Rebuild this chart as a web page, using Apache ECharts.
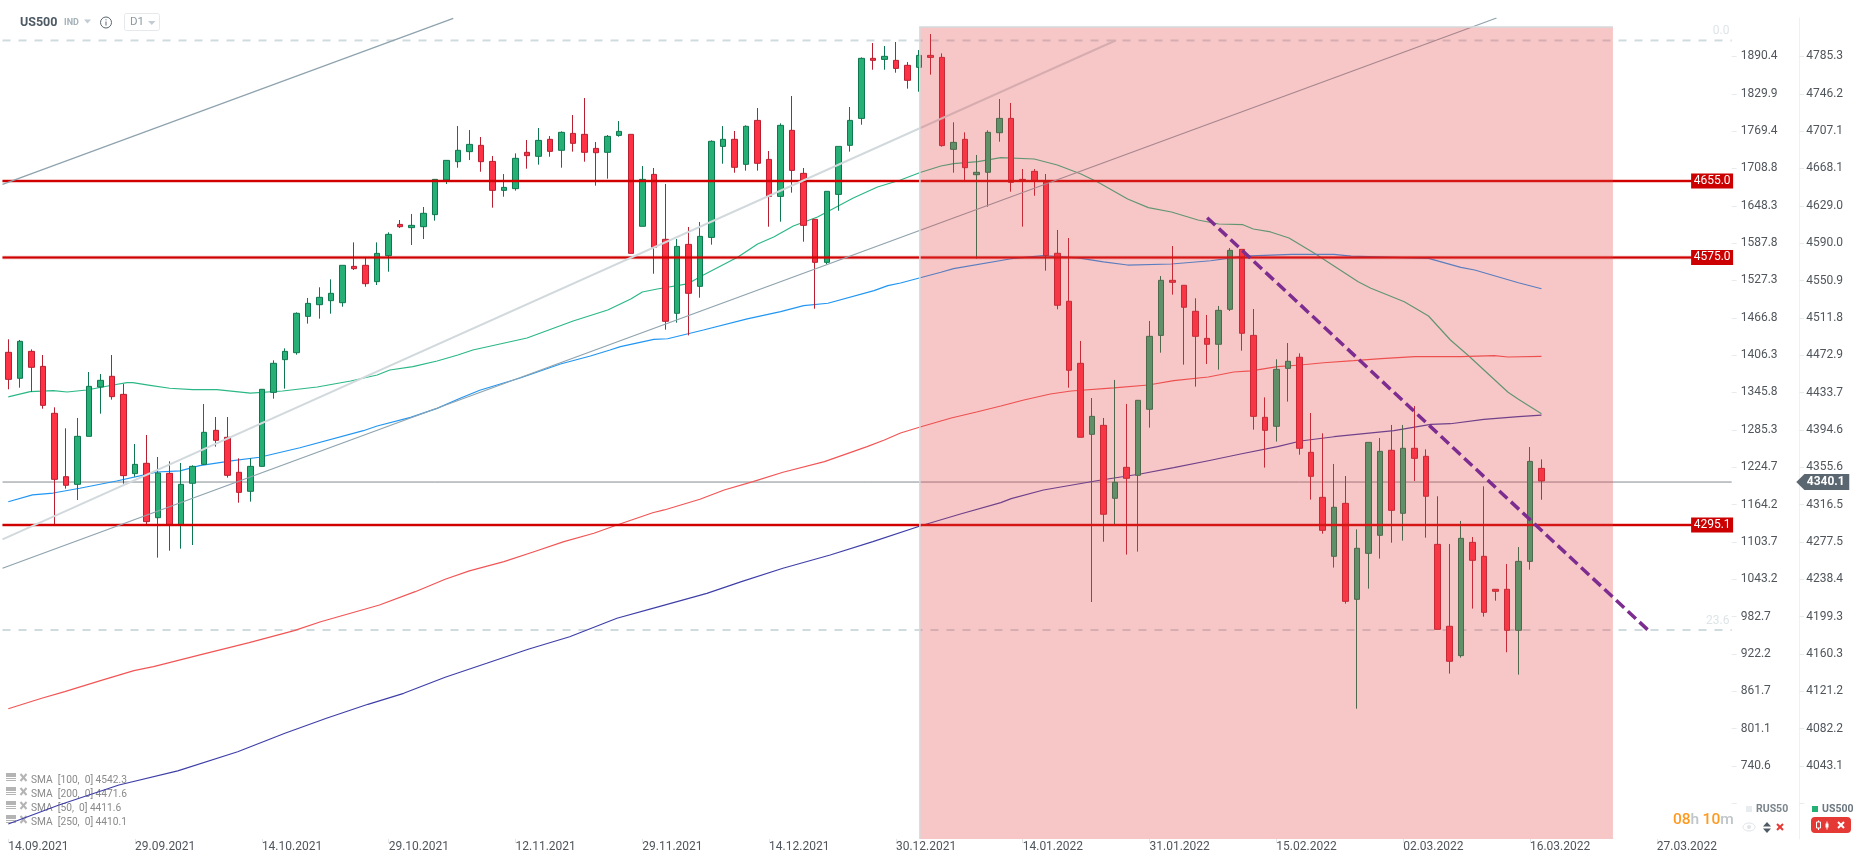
<!DOCTYPE html>
<html>
<head>
<meta charset="utf-8">
<title>US500</title>
<style>
	html, body { margin: 0; padding: 0; background: #fff; }
	#chart { width: 1866px; height: 865px; }
</style>
<script src="https://cdn.jsdelivr.net/npm/echarts@6/dist/echarts.min.js"></script>
</head>
<body>
<div id="chart"></div>
<script>
// date labels, one every 11 bars
const dateLabels = ['14.09.2021','29.09.2021','14.10.2021','29.10.2021','12.11.2021','29.11.2021','14.12.2021','30.12.2021','14.01.2022','31.01.2022','15.02.2022','02.03.2022','16.03.2022','27.03.2022'];
const barSlots = 150;

const usTicks = [4785.3,4746.2,4707.1,4668.1,4629.0,4590.0,4550.9,4511.8,4472.9,4433.7,4394.6,4355.6,4316.5,4277.5,4238.4,4199.3,4160.3,4121.2,4082.2,4043.1];
const rusTicks = [1890.4,1829.9,1769.4,1708.8,1648.3,1587.8,1527.3,1466.8,1406.3,1345.8,1285.3,1224.7,1164.2,1103.7,1043.2,982.7,922.2,861.7,801.1,740.6];

// US500 daily bars: open, close, low, high
const ohlc = [
	[4475.8,4447.5,4437.1,4489.4],[4448.6,4487.3,4438.8,4488.7],[4476.8,4460.1,4434.6,4478.9],[4461.1,4420.3,4416.8,4473.0],
	[4412.0,4342.9,4296.2,4418.2],[4345.7,4336.7,4333.2,4396.3],[4337.7,4387.9,4321.3,4407.1],[4387.9,4440.2,4387.9,4455.2],
	[4439.5,4446.5,4411.6,4453.1],[4450.7,4429.4,4426.3,4473.0],[4431.8,4346.8,4338.4,4442.6],[4348.9,4358.6,4345.7,4379.9],
	[4359.7,4298.7,4296.2,4389.3],[4302.8,4349.6,4261.0,4366.3],[4349.2,4294.8,4268.3,4361.8],[4294.8,4337.7,4270.4,4360.0],
	[4338.8,4356.5,4274.2,4357.6],[4358.6,4392.1,4357.9,4421.7],[4394.2,4383.7,4377.1,4408.1],[4386.9,4347.1,4344.7,4408.1],
	[4350.3,4329.3,4318.5,4364.9],[4330.4,4356.5,4319.6,4364.9],[4356.5,4437.1,4356.5,4437.1],[4433.9,4464.3,4427.3,4467.4],
	[4468.1,4476.8,4437.8,4479.9],[4475.4,4516.6,4473.3,4517.6],[4513.4,4527.0,4505.8,4532.6],[4525.6,4533.3,4511.0,4543.8],
	[4529.8,4537.5,4516.2,4552.1],[4527.7,4566.8,4523.5,4566.8],[4565.7,4563.3,4561.9,4590.8],[4566.8,4547.6,4544.4,4575.1],
	[4549.7,4579.3,4546.2,4590.8],[4576.9,4599.2,4560.1,4601.3],[4609.6,4607.2,4605.8,4614.2],[4606.2,4608.6,4588.0,4620.5],
	[4607.2,4621.2,4594.3,4627.8],[4619.8,4656.7,4613.5,4657.1],[4656.0,4676.6,4651.8,4676.6],[4675.2,4687.1,4668.9,4712.5],
	[4685.7,4693.3,4676.9,4708.3],[4692.3,4675.2,4664.7,4701.0],[4675.5,4645.2,4627.1,4681.1],[4645.2,4648.3,4638.6,4662.3],
	[4647.0,4678.7,4644.9,4683.9],[4685.0,4681.5,4667.9,4697.9],[4680.8,4697.5,4672.1,4710.4],[4698.6,4686.0,4680.4,4702.0],
	[4687.1,4705.9,4668.9,4706.9],[4704.8,4694.4,4685.7,4724.0],[4703.8,4685.0,4675.2,4741.8],[4689.1,4684.6,4650.1,4695.8],
	[4685.0,4701.7,4657.4,4703.1],[4702.7,4706.9,4701.3,4717.7],[4703.8,4579.3,4579.3,4703.8],[4607.6,4656.7,4607.6,4670.7],
	[4661.9,4585.6,4558.0,4668.6],[4594.0,4508.2,4499.5,4651.8],[4516.6,4586.6,4506.8,4594.3],[4588.7,4537.5,4493.5,4606.9],
	[4544.8,4597.1,4532.9,4612.1],[4596.0,4696.5,4588.4,4697.5],[4691.2,4698.6,4673.1,4712.5],[4698.6,4669.3,4663.7,4707.3],
	[4672.4,4712.2,4665.8,4713.2],[4718.4,4673.5,4665.8,4731.3],[4677.6,4638.9,4607.2,4686.4],[4638.9,4713.2,4612.4,4715.3],
	[4708.0,4666.1,4642.8,4743.9],[4663.0,4608.6,4591.5,4668.6],[4614.9,4569.9,4521.4,4614.9],[4569.9,4644.2,4567.8,4644.2],
	[4641.0,4691.2,4623.9,4691.2],[4692.3,4718.4,4685.7,4732.4],[4720.5,4783.3,4713.9,4784.3],[4783.3,4781.2,4771.4,4799.3],
	[4782.2,4785.4,4771.4,4796.2],[4781.2,4772.8,4768.3,4800.4],[4776.0,4760.3,4751.6,4779.4],[4773.9,4786.4,4748.4,4792.0],
	[4786.4,4784.3,4766.2,4808.7],[4784.3,4692.0,4690.9,4788.5],[4688.1,4695.4,4663.7,4716.4],[4698.6,4668.9,4655.3,4705.9],
	[4661.6,4664.1,4573.8,4682.2],[4664.1,4705.9,4628.1,4708.0],[4705.5,4720.5,4696.1,4740.8],[4720.5,4653.6,4643.8,4736.6],
	[4656.7,4655.0,4607.2,4667.5],[4665.1,4655.0,4639.6,4667.5],[4653.9,4576.9,4561.2,4662.3],[4579.4,4525.0,4520.8,4603.8],
	[4529.2,4457.0,4438.8,4595.4],[4464.3,4386.9,4386.9,4487.7],[4390.0,4408.8,4214.6,4428.0],[4399.4,4306.4,4277.7,4407.1],
	[4323.1,4339.8,4295.9,4446.9],[4355.5,4344.0,4264.2,4421.8],[4347.1,4425.6,4267.3,4425.6],[4416.2,4492.5,4397.0,4508.6],
	[4493.5,4551.1,4475.4,4555.6],[4551.1,4549.0,4536.1,4587.0],[4545.9,4522.9,4462.9,4545.9],[4518.7,4492.5,4439.9,4532.3],
	[4490.4,4484.2,4463.6,4514.9],[4484.2,4519.7,4457.7,4524.3],[4520.8,4582.5,4519.0,4584.9],[4583.5,4495.7,4477.5,4583.5],
	[4493.5,4408.8,4394.9,4521.1],[4407.8,4394.2,4355.2,4428.7],[4398.4,4458.0,4382.4,4468.5],[4459.0,4466.4,4424.2,4485.5],
	[4470.6,4375.4,4368.7,4474.7],[4371.2,4346.1,4321.7,4412.3],[4324.1,4289.6,4286.1,4391.1],[4262.4,4313.7,4250.6,4359.0],
	[4317.8,4215.3,4212.9,4346.4],[4217.4,4270.8,4103.0,4290.6],[4265.5,4381.6,4228.6,4381.6],[4284.4,4372.2,4260.0,4386.2],
	[4373.3,4310.5,4276.7,4399.8],[4307.4,4375.4,4278.8,4399.8],[4375.4,4364.9,4341.2,4419.6],[4367.0,4325.2,4281.9,4374.3],
	[4274.9,4186.0,4186.0,4325.2],[4189.2,4152.6,4139.7,4275.3],[4158.5,4281.2,4156.4,4299.4],[4277.0,4258.2,4207.7,4282.6],
	[4262.4,4203.8,4199.3,4335.6],[4227.9,4225.8,4216.0,4227.9],[4227.9,4185.0,4162.0,4254.4],[4185.0,4257.1,4138.6,4272.1],
	[4257.1,4361.7,4248.4,4376.7],[4354.4,4341.2,4321.6,4363.8]
];

// moving averages as [bar number, price]
const sma50 = [[0,4429.1],[1.9,4434.6],[3.9,4435.7],[5.1,4434.3],[6.8,4436.4],[9.1,4441.6],[10.3,4444.0],[10.8,4444.0],[12.3,4441.3],[14,4438.2],[16,4436.7],[18.1,4436.7],[21,4433.2],[23.8,4435.3],[26.8,4439.5],[29.7,4445.8],[32,4452.1],[33.1,4457.3],[35.1,4460.8],[37.2,4466.7],[39,4473.0],[40.3,4478.2],[45,4490.8],[49,4508.6],[52,4520.1],[54,4531.6],[55,4538.9],[56.3,4542.0],[58.9,4547.3],[60.3,4556.7],[63.3,4575.5],[65,4589.1],[66.4,4596.4],[68.1,4607.9],[70.2,4617.3],[73.3,4637.2],[75.4,4648.7],[77.4,4656.0],[79.1,4663.9],[80.9,4670.7],[82,4673.1],[84.1,4675.2],[86.1,4679.4],[89,4678.0],[91,4671.7],[93,4662.6],[94.5,4654.0],[97.1,4636.2],[98.9,4627.1],[100.9,4622.6],[103.2,4614.2],[105,4610.0],[107.1,4609.3],[108,4604.8],[109.5,4601.7],[111.1,4595.4],[113.3,4579.4],[115,4566.1],[117.1,4549.7],[118.2,4542.8],[121.1,4528.7],[123.2,4513.8],[125.1,4488.7],[126.6,4473.0],[130.1,4434.0],[131,4426.7],[133,4411.6]];
const sma100 = [[0,4319.5],[2.1,4326.6],[3.9,4328.6],[6.2,4333.6],[9.4,4341.2],[12,4348.2],[12.9,4350.6],[14.9,4351.7],[16.6,4357.2],[19.5,4362.4],[21.8,4366.0],[25.3,4376.0],[30.8,4393.8],[32,4398.7],[34.9,4407.8],[37.2,4417.2],[39.2,4427.7],[40.9,4436.1],[44.4,4448.9],[47.9,4463.6],[50.5,4471.9],[52.2,4478.2],[53.1,4481.7],[56,4489.4],[57.2,4490.0],[60.3,4499.1],[64.1,4510.7],[67,4518.3],[69,4524.6],[71.1,4527.1],[75.1,4540.3],[76.3,4545.5],[77.4,4548.3],[80.9,4559.5],[82,4563.3],[87,4573.7],[89.8,4576.9],[92.8,4574.5],[95,4570.3],[97.1,4567.1],[100.9,4568.2],[104.3,4571.6],[107.2,4576.5],[111.3,4578.3],[115,4578.3],[116.5,4576.5],[123.2,4574.1],[126,4564.7],[127.2,4561.9],[131,4548.6],[133,4542.3]];
const sma200 = [[0,4103.0],[2.9,4113.9],[4.9,4120.8],[8,4132.3],[10.9,4142.8],[12.6,4147.0],[16.8,4159.9],[20.9,4172.1],[24.8,4184.6],[27.1,4194.0],[32.2,4211.5],[35.3,4225.4],[37.9,4238.4],[40,4247.1],[43,4256.8],[45.6,4267.2],[48.2,4277.7],[50.8,4286.5],[52.8,4295.2],[55.9,4308.0],[56.9,4310.9],[60,4322.1],[62.1,4331.8],[64.6,4340.5],[67.2,4350.3],[70.8,4361.4],[74.5,4377.1],[76,4384.1],[77.4,4391.4],[79.1,4397.7],[81.8,4407.1],[84,4413.4],[86.1,4419.6],[88.1,4425.9],[90.4,4432.2],[92.2,4435.3],[95.9,4438.5],[98.9,4441.6],[101.1,4446.1],[104.1,4450.0],[106.3,4455.2],[107.8,4456.3],[110.1,4460.8],[112.1,4462.5],[114.1,4464.9],[116.7,4467.0],[119.1,4469.1],[122,4471.2],[126,4471.2],[128.9,4472.3],[130.1,4470.9],[133,4471.6]];
const sma250 = [[0,3982.4],[4.4,4002.3],[9.6,4023.2],[14.7,4037.9],[19.9,4058.0],[24,4077.3],[27.6,4093.0],[31.2,4107.6],[34.3,4119.1],[37.9,4135.9],[41.5,4150.5],[45.1,4165.2],[48.7,4178.3],[52.8,4197.6],[55.9,4208.0],[60.6,4223.7],[63.6,4235.9],[67.2,4249.9],[71.3,4263.8],[75,4277.7],[79.1,4294.1],[82.6,4306.7],[86.1,4318.5],[87,4322.7],[89.8,4331.8],[94.8,4342.2],[98.2,4348.5],[101.1,4355.1],[104.1,4362.4],[106.9,4369.4],[110.1,4377.1],[112.1,4383.0],[115,4387.5],[120.2,4393.8],[123.4,4400.5],[125.1,4401.1],[128,4405.7],[131,4408.5],[133,4410.1]];

// drawn trend lines, same units
const channelTop = [[-0.5,4651.5],[38.6,4825.2]];
const channelMid = [[-0.5,4280.2],[96.1,4802.2]];
const channelLow = [[-0.5,4249.9],[129.1,4825.5]];
const downTrend = [[104,4616.6],[142.3,4184.6]];

const resistanceLevels = [4655.0, 4575.0, 4295.1];
const fibLevels = [{ name: '0.0', price: 4802.0 }, { name: '23.6', price: 4185.3 }];
const lastPrice = 4340.1;

// shaded period: from bar, price top, to bar, price bottom
const shadedZone = [79.08, 4816.1, 139.2, 3966.7];

const legendRows = ['SMA  [100,  0] 4542.3', 'SMA  [200,  0] 4471.6', 'SMA  [50,  0] 4411.6', 'SMA  [250,  0] 4410.1'];

const usMin = 3966.7;
const usMax = 4825.5;
// RUS50 scale is tied to the US500 scale through the tick pairs
const rusPerUs = (rusTicks[0] - rusTicks[19]) / (usTicks[0] - usTicks[19]);
const rusMin = rusTicks[19] - (usTicks[19] - usMin) * rusPerUs;
const rusMax = rusTicks[0] + (usMax - usTicks[0]) * rusPerUs;

const categories = [];
for (let i = 0; i < barSlots; i++) {
	categories.push(i % 11 == 0 && dateLabels[i / 11] ? dateLabels[i / 11] : '');
}

const font = 'Roboto, sans-serif';
const barEnd = barSlots - 0.5;

function overlayLine(name, data, color, width, z, extra) {
	return Object.assign({
		name: name,
		type: 'line',
		xAxisIndex: 1,
		yAxisIndex: 0,
		data: data,
		symbol: 'none',
		silent: true,
		z: z,
		lineStyle: { color: color, width: width }
	}, extra || {});
}

const series = [];

resistanceLevels.forEach(function (p, i) {
	series.push(overlayLine('level halo' + i, [[-0.5, p], [barEnd, p]], 'rgba(204,0,0,0.3)', 3.5, 3));
	series.push(overlayLine('level' + i, [[-0.5, p], [barEnd, p]], '#d00000', 2, 3));
});
series.push(overlayLine('last', [[-0.5, lastPrice], [barEnd, lastPrice]], '#858c90', 1, 1));
fibLevels.forEach(function (f) {
	series.push(overlayLine('fib' + f.name, [[-0.5, f.price], [barEnd, f.price]], '#d0dbe0', 2, 1, {
		lineStyle: { color: '#d0dbe0', width: 2, type: [8, 8] }
	}));
});

series.push(overlayLine('SMA 50', sma50, '#2bb886', 1.2, 1));
series.push(overlayLine('SMA 100', sma100, '#2196f3', 1.2, 1));
series.push(overlayLine('SMA 200', sma200, '#f25555', 1.2, 1));
series.push(overlayLine('SMA 250', sma250, '#3f3fa8', 1.2, 1));

series.push({
	name: 'US500',
	type: 'candlestick',
	data: ohlc,
	barWidth: 6,
	z: 2,
	silent: true,
	itemStyle: {
		color: '#26b076',
		color0: '#ff3145',
		borderColor: '#0f7750',
		borderColor0: '#b81f30',
		borderWidth: 1
	}
});

series.push(overlayLine('channel top', channelTop, '#8fa3ae', 1.3, 3));
series.push(overlayLine('channel mid', channelMid, '#d2d9dc', 2, 3));
series.push(overlayLine('channel low', channelLow, '#8fa3ae', 1.3, 3));

series.push({
	name: 'shade',
	type: 'custom',
	xAxisIndex: 1,
	yAxisIndex: 0,
	z: 4,
	silent: true,
	data: [shadedZone],
	encode: { x: [0, 2], y: [1, 3] },
	renderItem: function (params, api) {
		const a = api.coord([api.value(0), api.value(1)]);
		const b = api.coord([api.value(2), api.value(3)]);
		return {
			type: 'group',
			children: [{
				type: 'rect',
				shape: { x: a[0], y: a[1], width: b[0] - a[0], height: b[1] - a[1] },
				style: { fill: 'rgba(228,68,68,0.3)' }
			}, {
				type: 'polyline',
				shape: { points: [[a[0], b[1]], [a[0], a[1]], [b[0], a[1]]] },
				style: { fill: null, stroke: '#d5d9dc', lineWidth: 1.5 }
			}]
		};
	}
});

series.push(overlayLine('down trend', downTrend, '#7d2d90', 3.5, 5, {
	lineStyle: { color: '#7d2d90', width: 3.5, type: [11, 5] }
}));

// red price tags on the levels
series.push({
	name: 'level tags',
	type: 'scatter',
	xAxisIndex: 1,
	yAxisIndex: 0,
	z: 6,
	silent: true,
	symbol: 'rect',
	symbolSize: [42, 15],
	itemStyle: { color: '#cc0000', opacity: 1 },
	data: resistanceLevels.map(function (p) { return [147.8, p]; }),
	label: {
		show: true,
		position: 'inside',
		color: '#fff',
		fontFamily: font,
		fontSize: 12,
		formatter: function (p) { return p.value[1].toFixed(1); }
	}
});

series.push({
	name: 'fib labels',
	type: 'scatter',
	xAxisIndex: 1,
	yAxisIndex: 0,
	z: 6,
	silent: true,
	symbolSize: 0,
	data: fibLevels.map(function (f) { return { value: [149.3, f.price], name: f.name }; }),
	label: {
		show: true,
		position: 'left',
		distance: 0,
		offset: [0, -9],
		color: '#d5dde1',
		fontFamily: font,
		fontSize: 12,
		formatter: '{b}'
	}
});

// dark tag with the last price, sits over the axis labels
series.push({
	name: 'last tag',
	type: 'scatter',
	xAxisIndex: 1,
	yAxisIndex: 0,
	z: 7,
	silent: true,
	clip: false,
	symbol: 'path://M0,8 L8,0 L52,0 L52,16 L8,16 Z',
	symbolSize: [53, 16],
	symbolKeepAspect: false,
	itemStyle: { color: '#5b6770', opacity: 1 },
	data: [[157.4, lastPrice]],
	label: {
		show: true,
		position: 'inside',
		offset: [3, 0],
		color: '#fff',
		fontFamily: font,
		fontSize: 12,
		fontWeight: 'bold',
		formatter: function (p) { return p.value[1].toFixed(1); }
	}
});

// toolbar and other screen furniture
function txt(x, y, text, size, color, weight) {
	return { type: 'text', x: x, y: y, silent: true, style: { text: text, fontFamily: font, fontSize: size, fill: color, fontWeight: weight || 'normal', verticalAlign: 'middle' } };
}
function tri(x, y, w, h, color, up) {
	const pts = up ? [[x, y + h], [x + w, y + h], [x + w / 2, y]] : [[x, y], [x + w, y], [x + w / 2, y + h]];
	return { type: 'polygon', silent: true, shape: { points: pts }, style: { fill: color } };
}
function seg(x1, y1, x2, y2, color, w) {
	return { type: 'line', silent: true, shape: { x1: x1, y1: y1, x2: x2, y2: y2 }, style: { stroke: color, lineWidth: w } };
}

const furniture = [
	txt(20, 22.5, 'US500', 12.5, '#4d5963', 'bold'),
	txt(64, 22.5, 'IND', 9, '#a4b1b9', 'bold'),
	tri(84, 19.5, 7, 4, '#c3ccd2'),
	{ type: 'circle', silent: true, shape: { cx: 106, cy: 22.5, r: 5.5 }, style: { fill: null, stroke: '#5a6670', lineWidth: 1 } },
	seg(106, 21.5, 106, 25.5, '#5a6670', 1),
	seg(106, 19.3, 106, 20.3, '#5a6670', 1),
	{ type: 'rect', silent: true, shape: { x: 124.5, y: 13.5, width: 35, height: 17, r: 2 }, style: { fill: '#fff', stroke: '#e6e9ec', lineWidth: 1 } },
	txt(130, 22.5, 'D1', 11.5, '#8c99a2'),
	tri(148, 21, 7.5, 4, '#c3ccd2'),
	// countdown
	{ type: 'text', silent: true, x: 1673, y: 820, style: {
		text: '{o|08}{g|h} {o|10}{g|m}',
		verticalAlign: 'middle',
		rich: {
			o: { fontFamily: font, fontSize: 15.5, fill: '#ff9a1f', fontWeight: 500 },
			g: { fontFamily: font, fontSize: 15.5, fill: '#bfc5c9', fontWeight: 500 }
		}
	} },
	// instrument switches
	{ type: 'rect', silent: true, shape: { x: 1746, y: 806, width: 6, height: 6 }, style: { fill: '#e8ecef' } },
	txt(1756, 809.5, 'RUS50', 10.5, '#7b858c', 'bold'),
	{ type: 'rect', silent: true, shape: { x: 1812, y: 806, width: 6, height: 6 }, style: { fill: '#25b075' } },
	txt(1822, 809.5, 'US500', 10.5, '#6c7780', 'bold'),
	{ type: 'ellipse', silent: true, shape: { cx: 1749, cy: 827, rx: 6, ry: 4 }, style: { fill: null, stroke: '#dfe4e7', lineWidth: 1 } },
	{ type: 'circle', silent: true, shape: { cx: 1749, cy: 827, r: 2 }, style: { fill: '#dfe4e7' } },
	tri(1763, 822, 8, 4.5, '#4e5a64', true),
	tri(1763, 828.5, 8, 4.5, '#4e5a64'),
	seg(1777, 824, 1783, 830, '#e53935', 2),
	seg(1783, 824, 1777, 830, '#e53935', 2),
	{ type: 'rect', silent: true, shape: { x: 1811, y: 817, width: 40, height: 16, r: 4 }, style: { fill: '#e53935' } },
	seg(1818.5, 820.5, 1818.5, 830, '#fff', 1),
	{ type: 'rect', silent: true, shape: { x: 1816.5, y: 822, width: 4, height: 6 }, style: { fill: '#e53935', stroke: '#fff', lineWidth: 1 } },
	seg(1827, 821.5, 1827, 829.5, '#fff', 1),
	{ type: 'rect', silent: true, shape: { x: 1825.5, y: 823.5, width: 3, height: 4 }, style: { fill: '#fff' } },
	seg(1838, 822, 1844, 828, '#fff', 2),
	seg(1844, 822, 1838, 828, '#fff', 2)
];

legendRows.forEach(function (row, i) {
	const y = 780 + i * 14;
	furniture.push({ type: 'rect', silent: true, shape: { x: 6, y: y - 7, width: 10, height: 4 }, style: { fill: '#b4b4b4' } });
	furniture.push(seg(6, y - 1.5, 16, y - 1.5, '#b4b4b4', 1));
	furniture.push(seg(6, y + 0.5, 16, y + 0.5, '#b4b4b4', 1));
	furniture.push(seg(20.5, y - 6, 26.5, y + 1, '#b4b4b4', 2));
	furniture.push(seg(26.5, y - 6, 20.5, y + 1, '#b4b4b4', 2));
	furniture.push(txt(31, y, row, 10.2, '#8a8a8a'));
});

const chart = echarts.init(document.getElementById('chart'));
chart.setOption({
	animation: false,
	backgroundColor: '#fff',
	textStyle: { fontFamily: font },
	grid: { left: 2.5, top: 18, width: 1729.2, bottom: 26, containLabel: false },
	xAxis: [{
		type: 'category',
		data: categories,
		boundaryGap: true,
		axisLine: { show: false },
		axisTick: { show: true, alignWithLabel: true, interval: 10, length: 4, lineStyle: { color: '#e4e7ea' } },
		axisLabel: { show: true, interval: 10, margin: 2, align: 'left', color: '#50565c', fontFamily: font, fontSize: 12 },
		splitLine: { show: false }
	}, {
		type: 'value',
		show: false,
		min: -0.5,
		max: barEnd,
		splitLine: { show: false }
	}],
	yAxis: [{
		type: 'value',
		min: usMin,
		max: usMax,
		position: 'right',
		offset: 67.5,
		scale: true,
		axisLine: { show: true, onZero: false, lineStyle: { color: '#eef0f2' } },
		axisTick: { show: true, length: 5, customValues: usTicks.concat([4004.1]), lineStyle: { color: '#e8ebed' } },
		axisLabel: {
			show: true,
			margin: 7,
			customValues: usTicks,
			color: '#50565c',
			fontFamily: font,
			fontSize: 12,
			formatter: function (v) { return v.toFixed(1); }
		},
		splitLine: { show: false }
	}, {
		type: 'value',
		min: rusMin,
		max: rusMax,
		position: 'right',
		offset: 0,
		scale: true,
		axisLine: { show: false, onZero: false },
		axisTick: { show: true, length: 5, customValues: rusTicks.concat([680.1]), lineStyle: { color: '#e8ebed' } },
		axisLabel: {
			show: true,
			margin: 9,
			customValues: rusTicks,
			color: '#50565c',
			fontFamily: font,
			fontSize: 12,
			formatter: function (v) { return v.toFixed(1); }
		},
		splitLine: { show: false }
	}],
	series: series,
	graphic: { elements: furniture }
});
</script>
</body>
</html>
